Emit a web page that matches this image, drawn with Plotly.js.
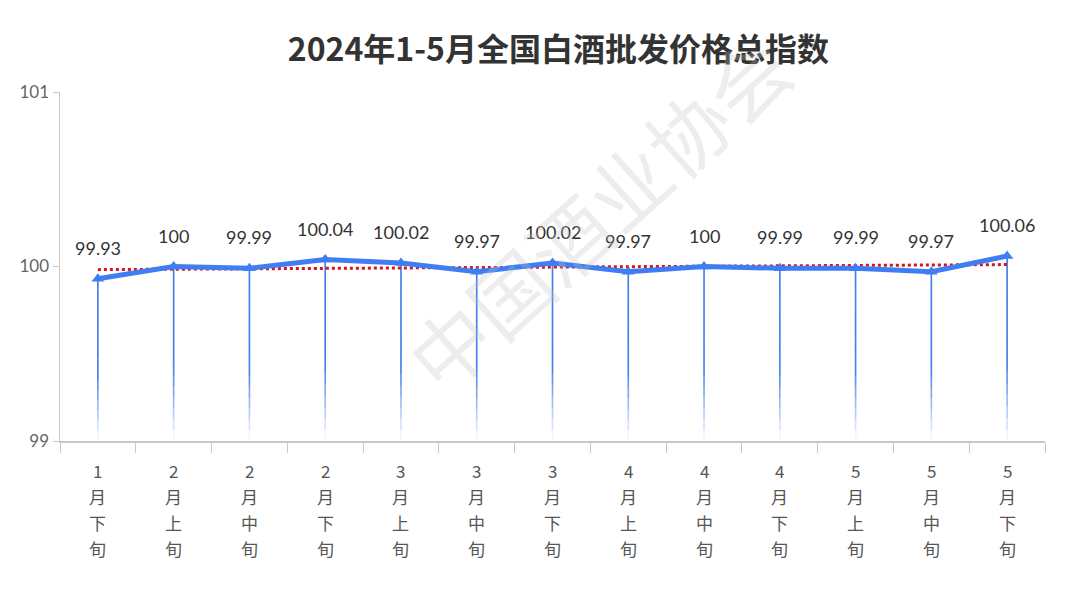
<!DOCTYPE html>
<html>
<head>
<meta charset="utf-8">
<script src="https://cdn.plot.ly/plotly-3.0.1.min.js"></script>
<style>html,body{margin:0;padding:0;background:#fff;}#chart{width:1080px;height:599px;}</style>
</head>
<body>
<div id="chart"></div>
<script>
const categories = ["1月下旬","2月上旬","2月中旬","2月下旬","3月上旬","3月中旬","3月下旬","4月上旬","4月中旬","4月下旬","5月上旬","5月中旬","5月下旬"];
const tickLines = [["1","月","下","旬"],["2","月","上","旬"],["2","月","中","旬"],["2","月","下","旬"],["3","月","上","旬"],["3","月","中","旬"],["3","月","下","旬"],["4","月","上","旬"],["4","月","中","旬"],["4","月","下","旬"],["5","月","上","旬"],["5","月","中","旬"],["5","月","下","旬"]];
const indexValues = [99.93, 100, 99.99, 100.04, 100.02, 99.97, 100.02, 99.97, 100, 99.99, 99.99, 99.97, 100.06];
const trendEnds = [99.982, 100.011];
const yTicks = [99, 100, 101];

const yMin = 99;
const traces = [];
// gradient drop lines: stacked thin bar segments fading to white at the bottom
const N = 16;
const dropTop = [70, 125, 235];
for (let k = 0; k < N; k++) {
  const f = k / N;
  const t = Math.min(1, (k + 0.5) / (N * 0.42));
  const c = dropTop.map(v => Math.round(255 + (v - 255) * t));
  traces.push({
    type: 'bar',
    x: categories,
    base: indexValues.map(v => yMin + (v - yMin) * f),
    y: indexValues.map(v => (v - yMin) / N * 1.02),
    width: 0.022,
    marker: {color: `rgb(${c[0]},${c[1]},${c[2]})`, line: {width: 0}},
    hoverinfo: 'skip',
    showlegend: false
  });
}
// trend line
traces.push({
  type: 'scatter', mode: 'lines',
  x: [categories[0], categories[categories.length - 1]],
  y: trendEnds,
  line: {color: '#d9141e', width: 3, dash: 'dot'},
  hoverinfo: 'skip', showlegend: false
});
// main line
traces.push({
  type: 'scatter', mode: 'lines+markers',
  x: categories, y: indexValues,
  line: {color: '#3f7ef2', width: 5},
  marker: {symbol: 'triangle-up', size: 11, color: '#3f7ef2'},
  showlegend: false
});

const annotations = categories.map((c, i) => ({
  x: c, y: indexValues[i], xref: 'x', yref: 'y',
  text: String(indexValues[i]), showarrow: false, yshift: 31,
  font: {family: 'Lato, "Noto Sans", sans-serif', size: 18, color: '#333'}
}));
// vertical category labels, one annotation per character line
categories.forEach((c, i) => {
  tickLines[i].forEach((s, j) => {
    annotations.push({
      x: c, y: 0, xref: 'x', yref: 'paper', yanchor: 'middle',
      text: s, showarrow: false, yshift: -(29 + 26.3 * j),
      font: {family: '"Noto Sans CJK SC", sans-serif', size: 17, color: '#555'}
    });
  });
});
annotations.push({
  xref: 'paper', yref: 'paper', x: 0.545, y: 0.66, text: '中国酒业协会', showarrow: false,
  textangle: -42, font: {family: '"Noto Sans CJK SC", sans-serif', size: 80, color: 'rgba(190,190,190,0.28)'}
});

const layout = {
  width: 1080, height: 599,
  margin: {l: 60, r: 35, t: 92, b: 158},
  paper_bgcolor: '#fff', plot_bgcolor: '#fff',
  barmode: 'overlay',
  title: {text: '<b>2024年1-5月全国白酒批发价格总指数</b>', x: 0.517, xanchor: 'center', y: 0.935,
    font: {family: '"Noto Sans CJK SC", sans-serif', size: 32, color: '#333'}},
  xaxis: {
    type: 'category', range: [-0.5, 12.5],
    showticklabels: false,
    ticks: 'outside', tickson: 'boundaries', ticklen: 10, tickcolor: '#c8c8c8',
    showline: true, linecolor: '#c8c8c8', linewidth: 1.5,
    showgrid: false, zeroline: false
  },
  yaxis: {
    range: [99, 101], tickvals: yTicks, ticktext: yTicks.map(String),
    ticks: 'outside', ticklen: 6, tickcolor: '#c8c8c8',
    showline: true, linecolor: '#c8c8c8', linewidth: 1.5,
    showgrid: false, zeroline: false,
    tickfont: {family: 'Lato, "Noto Sans", sans-serif', size: 17, color: '#666'}
  },
  annotations: annotations
};

Plotly.newPlot('chart', traces, layout, {displayModeBar: false, staticPlot: true});
</script>
</body>
</html>
